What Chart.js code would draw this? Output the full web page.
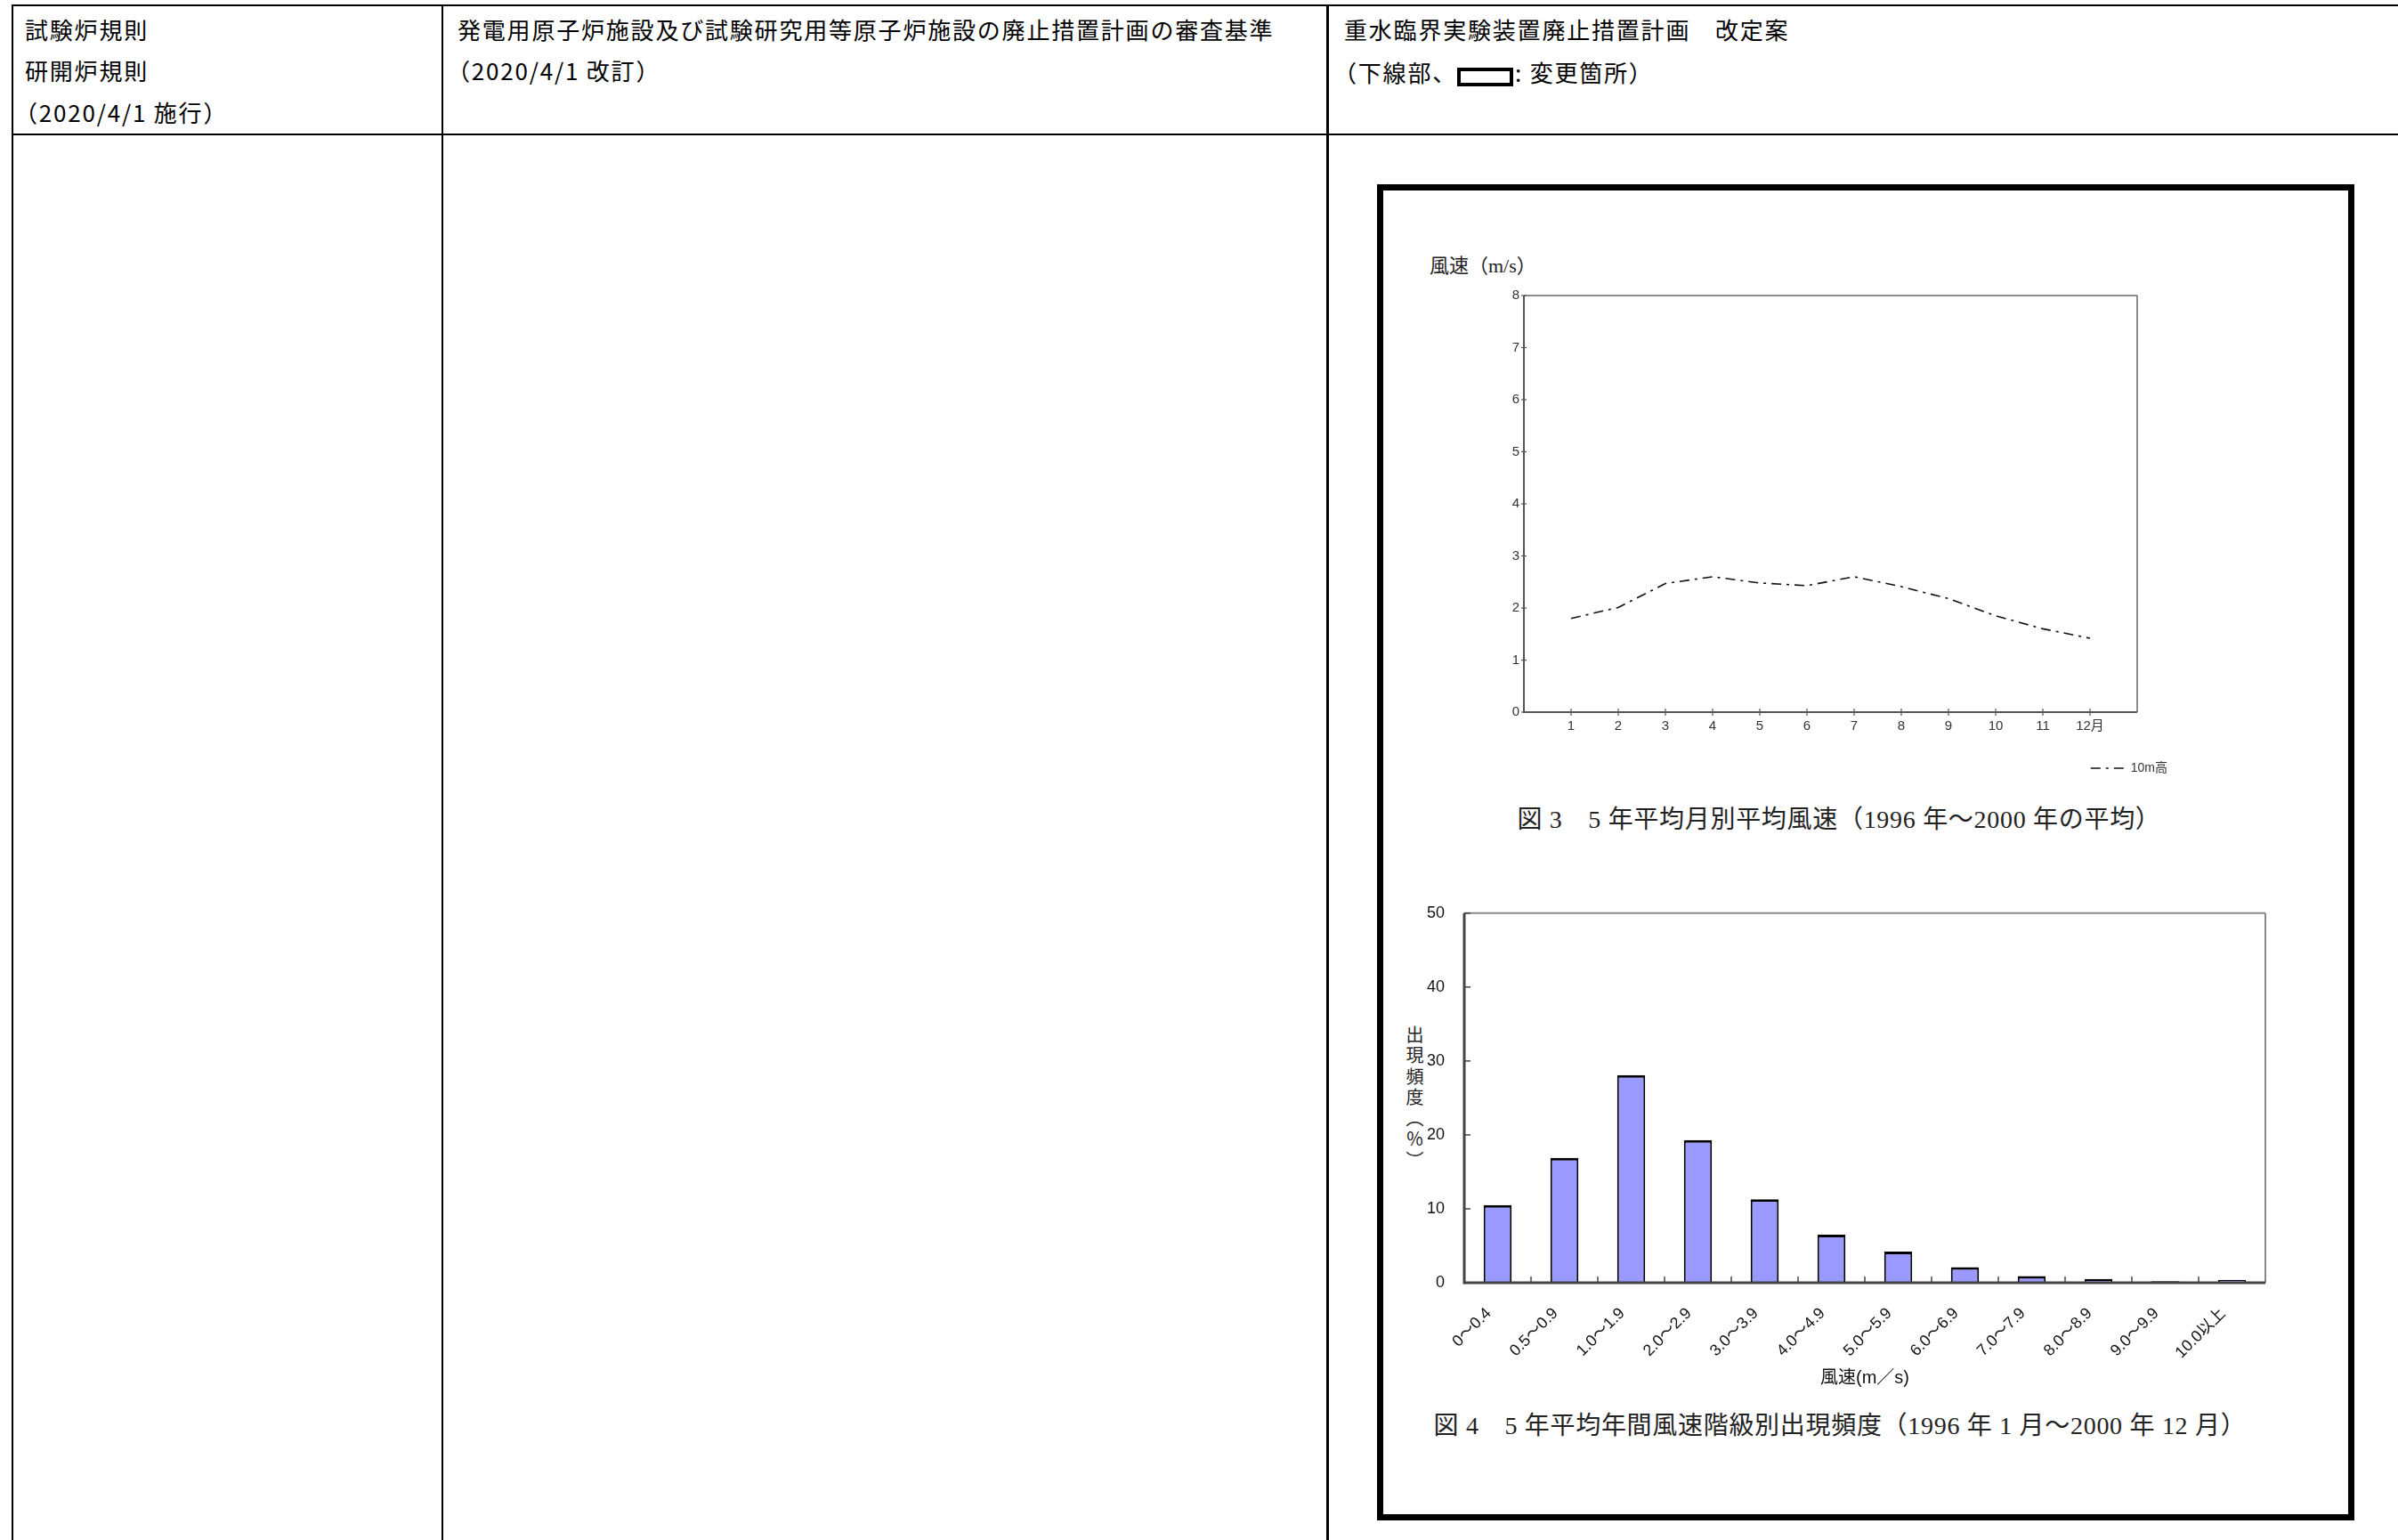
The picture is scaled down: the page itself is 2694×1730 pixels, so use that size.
<!DOCTYPE html>
<html lang="ja">
<head>
<meta charset="utf-8">
<title>重水臨界実験装置廃止措置計画 改定案</title>
<script src="https://cdn.jsdelivr.net/npm/chart.js@4.4.1/dist/chart.umd.min.js"></script>
<style>
html, body { margin: 0; padding: 0; background: #fff; }
body { width: 2694px; height: 1730px; position: relative; overflow: hidden;
       font-family: "Noto Sans CJK JP", sans-serif; color: #000; }
.rule { position: absolute; background: #000; }
.hd { position: absolute; font-size: 26px; letter-spacing: 1.8px; line-height: 30px; white-space: nowrap; }
.mark { display: inline-block; width: 55px; height: 13px; border: 4px solid #000; vertical-align: -5px; margin: 0 2px 0 0; }
.frame { position: absolute; left: 1547px; top: 207px; width: 1098px; height: 1501px;
         border: 7px solid #000; box-sizing: border-box; }
.serif { position: absolute; font-family: "Liberation Serif", "Noto Sans CJK JP", serif; color: #222; white-space: nowrap; }
.caption { font-size: 28px; letter-spacing: 0.7px; line-height: 32px; transform: translateX(-50%); }
.ytitle { position: absolute; writing-mode: vertical-rl; font-size: 20px; letter-spacing: 3.5px;
          line-height: 20px; color: #222; }
canvas { position: absolute; }
</style>
</head>
<body>

<!-- 表の罫線 -->
<div class="rule" style="left:13px; top:5px; width:2681px; height:2px;"></div>
<div class="rule" style="left:13px; top:150px; width:2681px; height:2px;"></div>
<div class="rule" style="left:13px; top:5px; width:2px; height:1725px;"></div>
<div class="rule" style="left:496px; top:5px; width:2px; height:1725px;"></div>
<div class="rule" style="left:1490px; top:5px; width:3px; height:1725px;"></div>

<!-- 見出し -->
<div class="hd" style="left:28px; top:18px;">試験炉規則</div>
<div class="hd" style="left:28px; top:64px;">研開炉規則</div>
<div class="hd" style="left:16px; top:111px;">（2020/4/1 施行）</div>
<div class="hd" style="left:514px; top:18px;">発電用原子炉施設及び試験研究用等原子炉施設の廃止措置計画の審査基準</div>
<div class="hd" style="left:502px; top:64px;">（2020/4/1 改訂）</div>
<div class="hd" style="left:1510px; top:18px;">重水臨界実験装置廃止措置計画　改定案</div>
<div class="hd" style="left:1498px; top:66px;">（下線部、<span class="mark"></span>: 変更箇所）</div>

<div class="frame"></div>

<div class="serif" style="left:1606px; top:286px; font-size:22px; line-height:26px;">風速（m/s）</div>
<canvas id="lineChart" width="795" height="570" style="left:1650px; top:315px;"></canvas>
<div class="serif caption" style="left:2066px; top:905px;">図 3　5 年平均月別平均風速（1996 年～2000 年の平均）</div>

<div class="ytitle" style="left:1579px; top:1152px;">出現頻度（％）</div>
<canvas id="barChart" width="1000" height="587" style="left:1560px; top:993px;"></canvas>
<div class="serif caption" style="left:2067px; top:1586px;">図 4　5 年平均年間風速階級別出現頻度（1996 年 1 月～2000 年 12 月）</div>

<script>
// 図3 月別平均風速（10m高）
const months = [1, 2, 3, 4, 5, 6, 7, 8, 9, 10, 11, 12];
const monthLabels = ['1', '2', '3', '4', '5', '6', '7', '8', '9', '10', '11', '12月'];
const windSpeed10m = [1.80, 2.01, 2.47, 2.60, 2.48, 2.43, 2.60, 2.41, 2.18, 1.85, 1.60, 1.42];
const speedTicks = [0, 1, 2, 3, 4, 5, 6, 7, 8];

// 図4 風速階級別出現頻度（%）
const speedClasses = ['0～0.4', '0.5～0.9', '1.0～1.9', '2.0～2.9', '3.0～3.9', '4.0～4.9',
                      '5.0～5.9', '6.0～6.9', '7.0～7.9', '8.0～8.9', '9.0～9.9', '10.0以上'];
const frequency = [10.5, 16.9, 28.1, 19.3, 11.3, 6.5, 4.2, 2.1, 0.9, 0.5, 0.2, 0.4];
const freqTicks = [0, 10, 20, 30, 40, 50];

Chart.defaults.font.family = '"Liberation Sans", "Noto Sans CJK JP", sans-serif';
Chart.defaults.color = '#222';

// 枠線と内向き目盛り（Excel 風）
const axisDecor = {
    id: 'axisDecor',
    afterDatasetsDraw(chart, args, o) {
        const { ctx, chartArea: a, scales: { x, y } } = chart;
        const line = (x1, y1, x2, y2, color, w) => {
            ctx.beginPath();
            ctx.strokeStyle = color;
            ctx.lineWidth = w;
            ctx.moveTo(x1, y1);
            ctx.lineTo(x2, y2);
            ctx.stroke();
        };
        ctx.save();
        ctx.setLineDash([]);
        line(a.left, a.top, a.right, a.top, o.frameColor, o.frameWidth);
        line(a.right, a.top, a.right, a.bottom, o.frameColor, o.frameWidth);
        line(a.left, a.top, a.left, a.bottom + o.axisWidth / 2, o.axisColor, o.axisWidth);
        line(a.left, a.bottom, a.right, a.bottom, o.axisColor, o.axisWidth);

        y.ticks.forEach(t => {
            const p = y.getPixelForValue(t.value);
            line(a.left - o.yOut, p, a.left + o.yIn, p, o.axisColor, o.tickWidth);
        });

        let xs;
        if (o.xBetween) {
            xs = [];
            for (let i = 1; i < x.ticks.length; i++) {
                xs.push((x.getPixelForValue(i - 1) + x.getPixelForValue(i)) / 2);
            }
        } else {
            xs = x.ticks.map(t => x.getPixelForValue(t.value));
        }
        xs.forEach(p => line(p, a.bottom + o.xOut, p, a.bottom - o.xIn, o.axisColor, o.tickWidth));
        ctx.restore();
    }
};

// 図3 折れ線グラフ
new Chart(document.getElementById('lineChart'), {
    type: 'line',
    data: {
        datasets: [{
            label: '10m高',
            data: months.map((m, i) => ({ x: m, y: windSpeed10m[i] })),
            borderColor: '#111',
            borderWidth: 1.6,
            borderDash: [11, 6, 3, 6],
            pointRadius: 0,
            tension: 0,
            fill: false
        }]
    },
    options: {
        responsive: false,
        animation: false,
        devicePixelRatio: 1,
        layout: { padding: { top: 17, left: 0, right: 0, bottom: 5 } },
        scales: {
            x: {
                type: 'linear',
                min: 0,
                max: 13,
                afterBuildTicks: s => { s.ticks = months.map(v => ({ value: v })); },
                afterFit: s => { s.height = 46; },
                ticks: {
                    callback: v => monthLabels[months.indexOf(v)],
                    font: { size: 15 },
                    color: '#333',
                    padding: 7,
                    maxRotation: 0,
                    autoSkip: false
                },
                grid: { display: false, drawTicks: false },
                border: { display: false }
            },
            y: {
                min: 0,
                max: 8,
                afterBuildTicks: s => { s.ticks = speedTicks.map(v => ({ value: v })); },
                afterFit: s => { s.width = 62; },
                ticks: { font: { size: 15 }, color: '#333', padding: 5 },
                grid: { display: false, drawTicks: false },
                border: { display: false }
            },
            y2: {
                position: 'right',
                afterFit: s => { s.width = 44; },
                ticks: { display: false },
                grid: { display: false, drawTicks: false },
                border: { display: false }
            }
        },
        plugins: {
            legend: {
                position: 'bottom',
                align: 'end',
                labels: {
                    usePointStyle: true,
                    pointStyle: 'line',
                    pointStyleWidth: 38,
                    color: '#333',
                    font: { size: 14 },
                    padding: 10,
                    generateLabels: chart =>
                        Chart.defaults.plugins.legend.labels.generateLabels(chart).map((item, i) => {
                            const ds = chart.data.datasets[i];
                            item.lineDash = ds.borderDash;
                            item.lineWidth = ds.borderWidth;
                            item.strokeStyle = ds.borderColor;
                            return item;
                        })
                }
            },
            tooltip: { enabled: false },
            axisDecor: {
                frameColor: '#666', frameWidth: 1.5,
                axisColor: '#555', axisWidth: 2, tickWidth: 1.2,
                yOut: 3, yIn: 3, xOut: 4, xIn: 4, xBetween: false
            }
        }
    },
    plugins: [axisDecor]
});

// 図4 棒グラフ
new Chart(document.getElementById('barChart'), {
    type: 'bar',
    data: {
        labels: speedClasses,
        datasets: [{
            label: '出現頻度',
            data: frequency,
            backgroundColor: '#9999ff',
            borderColor: '#000',
            borderWidth: { top: 3, left: 2, right: 2, bottom: 0 },
            borderSkipped: 'bottom',
            barPercentage: 0.42,
            categoryPercentage: 1.0
        }]
    },
    options: {
        responsive: false,
        animation: false,
        devicePixelRatio: 1,
        layout: { padding: { top: 23, left: 0, right: 15, bottom: 0 } },
        scales: {
            x: {
                afterFit: s => { s.height = 139; },
                ticks: {
                    font: { size: 18 },
                    color: '#111',
                    minRotation: 45,
                    maxRotation: 45,
                    autoSkip: false,
                    padding: 24,
                    labelOffset: -10
                },
                grid: { display: false, drawTicks: false },
                border: { display: false },
                title: {
                    display: true,
                    text: '風速(m／s)',
                    font: { size: 20 },
                    color: '#111',
                    padding: { top: 0, bottom: 20 }
                }
            },
            y: {
                min: 0,
                max: 50,
                afterBuildTicks: s => { s.ticks = freqTicks.map(v => ({ value: v })); },
                afterFit: s => { s.width = 85; },
                ticks: { font: { size: 18 }, color: '#111', padding: 22 },
                grid: { display: false, drawTicks: false },
                border: { display: false }
            }
        },
        plugins: {
            legend: { display: false },
            tooltip: { enabled: false },
            axisDecor: {
                frameColor: '#888', frameWidth: 2,
                axisColor: '#444', axisWidth: 3, tickWidth: 1.5,
                yOut: 0, yIn: 7, xOut: 0, xIn: 7, xBetween: true
            }
        }
    },
    plugins: [axisDecor]
});
</script>
</body>
</html>
